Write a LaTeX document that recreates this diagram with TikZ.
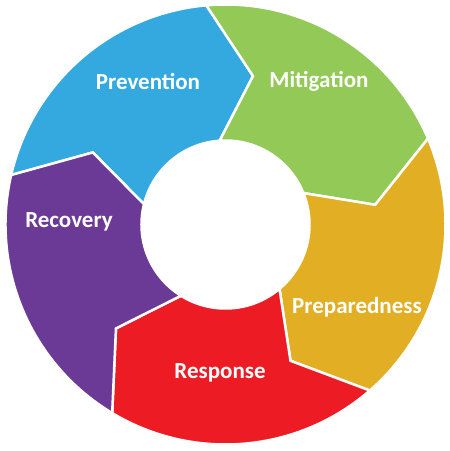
\documentclass[tikz,border=0pt]{standalone}
\usepackage{fontspec}
\setmainfont{Carlito}

\definecolor{prevblue}{HTML}{33A9E0}
\definecolor{mitgreen}{HTML}{92C957}
\definecolor{prepgold}{HTML}{E2AE24}
\definecolor{respred}{HTML}{ED1C24}
\definecolor{recpurple}{HTML}{6B3A96}

% one arrow shaped part of the ring, #1 colour, #2 angle where it starts
\newcommand{\ringpart}[2]{%
  \fill[#1, draw=white, line width=2.5pt, line join=miter]
    (#2:220pt) arc[start angle=#2, end angle=#2-72, radius=220pt]
    -- (#2-87.5:151pt) -- (#2-73:84pt)
    arc[start angle=#2-73, end angle=#2-1, radius=84pt]
    -- (#2-15.5:151pt) -- cycle;}

\begin{document}
\begin{tikzpicture}[
        phase/.style = {text=white, font=\bfseries\fontsize{23}{26}\selectfont}, % label style
        line join = miter
      ]

      \useasboundingbox (-225.5pt,-226.5pt) rectangle (224.5pt,224.5pt);

      \ringpart{prevblue}{167}
      \ringpart{mitgreen}{95}
      \ringpart{prepgold}{23}
      \ringpart{respred}{-49}
      \ringpart{recpurple}{-121}

      \fill[white] (0,0) circle (84pt); % hole in the middle

      \node[phase] (prevention) at (-77.5pt,143.5pt) {Prevention};
      \node[phase] (mitigation) at (93.5pt,143.5pt) {Mitigation};
      \node[phase] (preparedness) at (131.5pt,-82.5pt) {Preparedness};
      \node[phase] (response) at (-5.5pt,-148.5pt) {Response};
      \node[phase] (recovery) at (-156.5pt,2.5pt) {Recovery};

    \end{tikzpicture}
\end{document}
